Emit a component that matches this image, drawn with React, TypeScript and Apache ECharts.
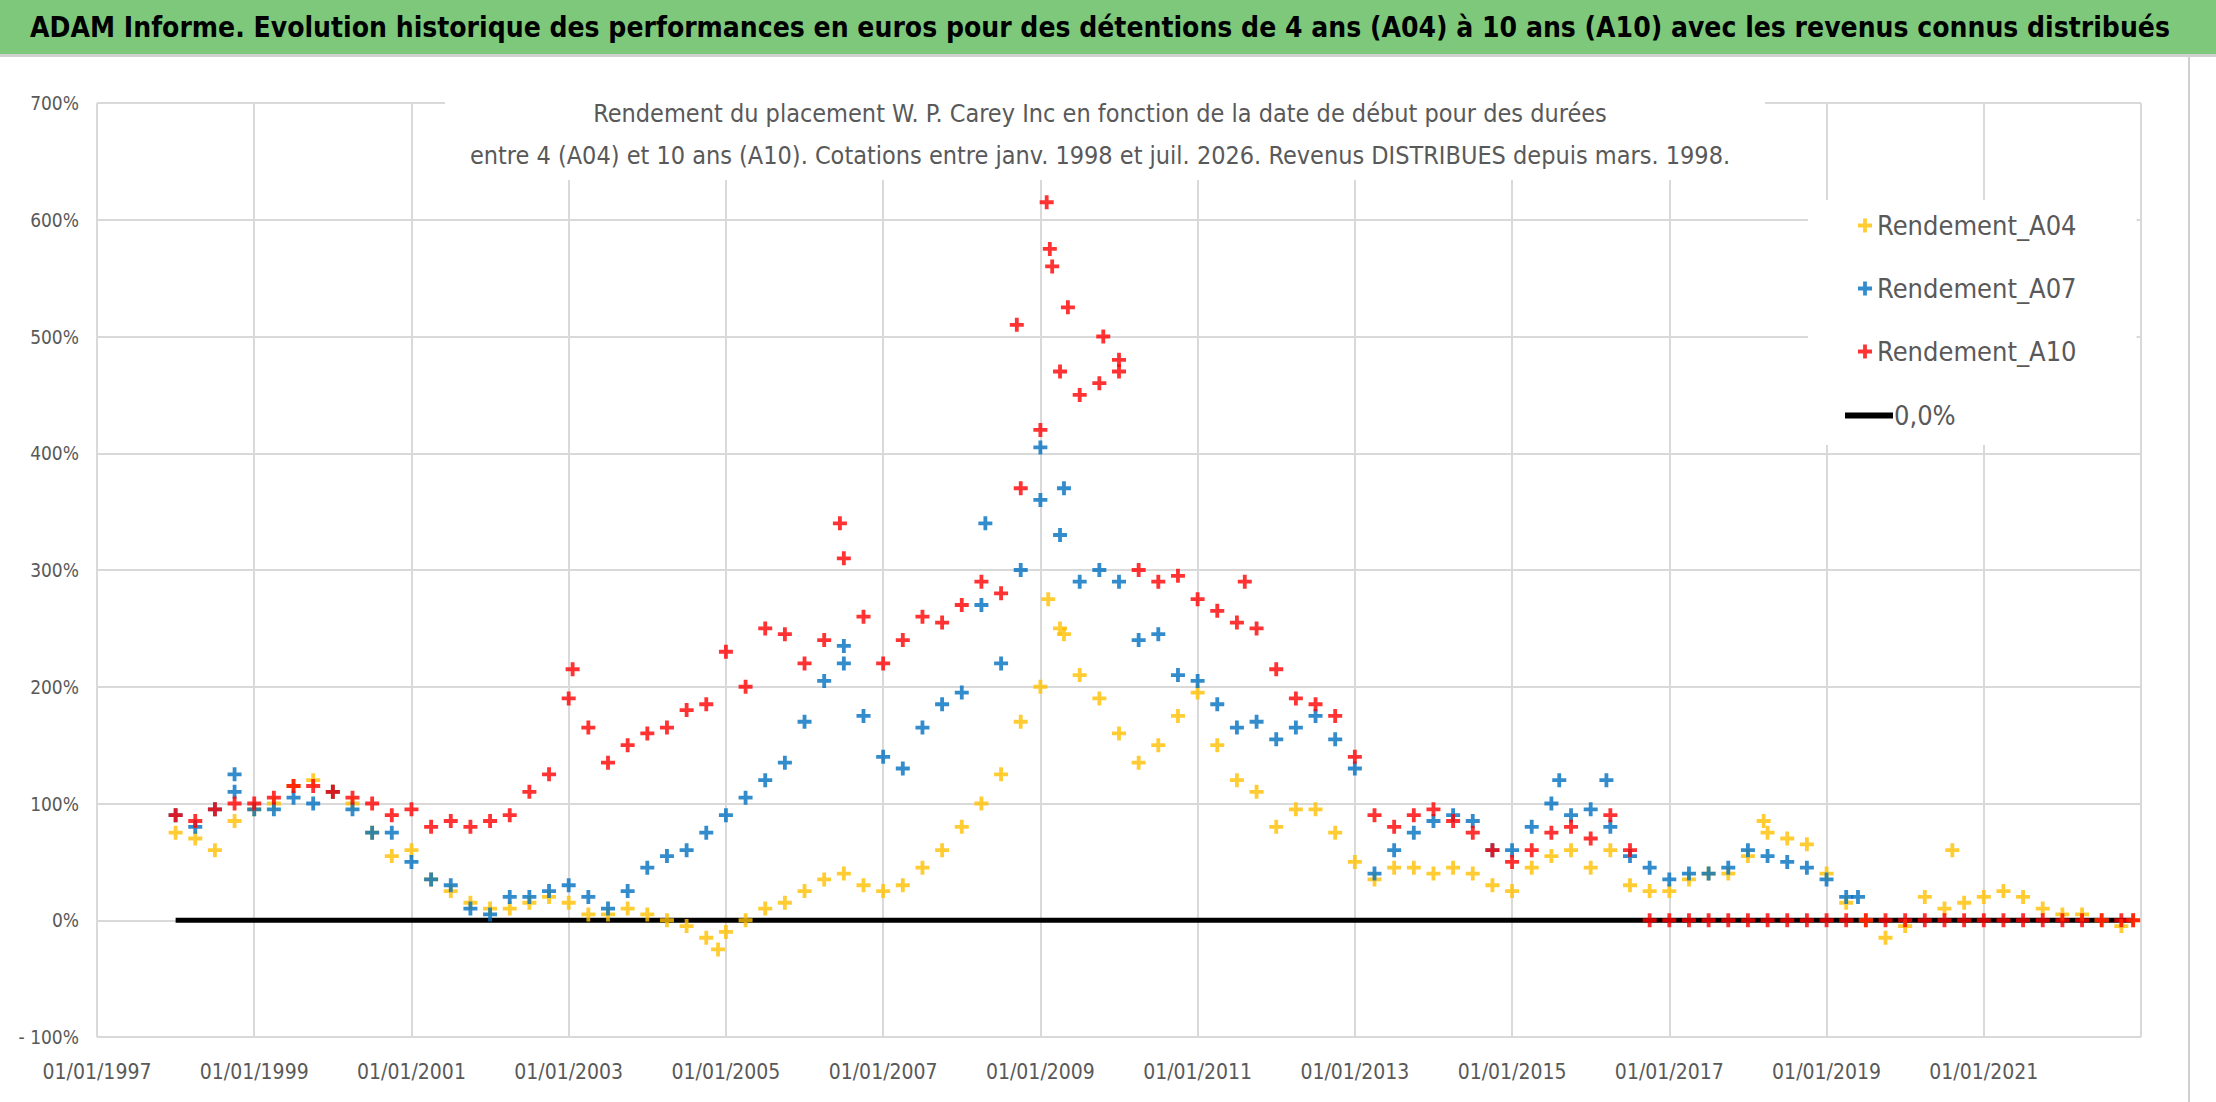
import React, { useEffect, useRef } from 'react'
import * as echarts from 'echarts'

// dates as decimal years, returns in %
const datesA = [
  1998.0, 1998.25, 1998.5, 1998.75, 1999.0, 1999.25, 1999.5, 1999.75, 2000.0, 2000.25, 2000.5, 2000.75,
  2001.0, 2001.25, 2001.5, 2001.75, 2002.0, 2002.25, 2002.5, 2002.75, 2003.0, 2003.25, 2003.5, 2003.75,
  2004.0, 2004.25, 2004.5, 2004.75, 2005.0, 2005.25, 2005.5, 2005.75, 2006.0, 2006.25, 2006.5, 2006.75,
  2007.0, 2007.25, 2007.5, 2007.75, 2008.0, 2008.25, 2008.5, 2008.75, 2009.0, 2009.25, 2009.5, 2009.75,
  2010.0, 2010.25, 2010.5, 2010.75, 2011.0, 2011.25, 2011.5, 2011.75, 2012.0, 2012.25, 2012.5, 2012.75,
  2013.0, 2013.25, 2013.5, 2013.75, 2014.0, 2014.25, 2014.5, 2014.75, 2015.0, 2015.25, 2015.5, 2015.75,
  2016.0, 2016.25, 2016.5
]
const a10 = [
  90, 85, 95, 100, 100, 105, 115, 115, 110, 105, 100, 90,
  95, 80, 85, 80, 85, 90, 110, 125, 190, 165, 135, 150,
  160, 165, 180, 185, 230, 200, 250, 245, 220, 240, 310, 260,
  220, 240, 260, 255, 270, 290, 280, 370, 420, 470, 450, 460,
  470, 300, 290, 295, 275, 265, 255, 250, 215, 190, 185, 175,
  140, 90, 80, 90, 95, 85, 75, 60, 50, 60, 75, 80,
  70, 90, 60
]
// isolated highs visible above the main cloud
const datesA10Peaks = [2003.05, 2006.45, 2008.7, 2009.08, 2009.12, 2009.15, 2009.35, 2009.8, 2010.0, 2011.6]
const a10Peaks = [215, 340, 510, 615, 575, 560, 525, 500, 480, 290]
const datesA10Zero = [
  2016.75, 2017.0, 2017.25, 2017.5, 2017.75, 2018.0, 2018.25, 2018.5, 2018.75, 2019.0, 2019.25, 2019.5,
  2019.75, 2020.0, 2020.25, 2020.5, 2020.75, 2021.0, 2021.25, 2021.5, 2021.75, 2022.0, 2022.25, 2022.5,
  2022.75, 2022.9
]
const a10Zero = [
  0, 0, 0, 0, 0, 0, 0, 0, 0, 0, 0, 0,
  0, 0, 0, 0, 0, 0, 0, 0, 0, 0, 0, 0,
  0, 0
]
const datesB = [
  ...datesA,
  2016.75, 2017.0, 2017.25, 2017.5, 2017.75, 2018.0, 2018.25, 2018.5, 2018.75, 2019.0, 2019.25, 2019.4
]
const a07 = [
  90, 80, 95, 110, 95, 95, 105, 100, 110, 95, 75, 75,
  50, 35, 30, 10, 5, 20, 20, 25, 30, 20, 10, 25,
  45, 55, 60, 75, 90, 105, 120, 135, 170, 205, 220, 175,
  140, 130, 165, 185, 195, 270, 220, 300, 360, 330, 290, 300,
  290, 240, 245, 210, 205, 185, 165, 170, 155, 165, 175, 155,
  130, 40, 60, 75, 85, 90, 85, 60, 60, 80, 100, 90,
  95, 80, 55, 45, 35, 40, 40, 45, 60, 55, 50, 45, 35, 20, 20
]
const datesA07Peaks = [1998.75, 2006.5, 2008.3, 2009.0, 2009.3, 2015.6, 2016.2]
const a07Peaks = [125, 235, 340, 405, 370, 120, 120]
const datesC = [
  ...datesB.slice(0, datesB.length - 1),
  2019.5, 2019.75, 2020.0, 2020.25, 2020.5, 2020.75, 2021.0, 2021.25, 2021.5, 2021.75, 2022.0, 2022.25,
  2022.5, 2022.75, 2022.9
]
const a04 = [
  75, 70, 60, 85, 95, 100, 115, 120, 110, 100, 75, 55,
  60, 35, 25, 15, 10, 10, 15, 20, 15, 5, 5, 10,
  5, 0, -5, -15, -10, 0, 10, 15, 25, 35, 40, 30,
  25, 30, 45, 60, 80, 100, 125, 170, 200, 250, 210, 190,
  160, 135, 150, 175, 195, 150, 120, 110, 80, 95, 95, 75,
  50, 35, 45, 45, 40, 45, 40, 30, 25, 45, 55, 60,
  45, 60, 30, 25, 25, 35, 40, 40, 55, 75, 70, 65, 40, 15,
  0, -15, -5, 20, 10, 15, 20, 25, 20, 10, 5, 5,
  0, -5, 0
]
const datesA04Peaks = [2004.9, 2009.1, 2009.3, 2018.2, 2020.6]
const a04Peaks = [-25, 275, 245, 85, 60]
const zeroDates = [1998.0, 2022.9]
const zeroValues = [0, 0]

const title = 'ADAM Informe. Evolution historique des performances en euros pour des détentions de 4 ans (A04) à 10 ans (A10) avec les revenus connus distribués'
const subtitle1 = 'Rendement du placement W. P. Carey Inc en fonction de la date de début pour des durées'
const subtitle2 = 'entre 4 (A04) et 10 ans (A10). Cotations entre janv. 1998 et juil. 2026. Revenus DISTRIBUES depuis mars. 1998.'

const PLUS = 'path://M4,0H7V4H11V7H7V11H4V7H0V4H4Z'
const FONT = 'DejaVu Sans Condensed'

const zip = (xs: number[], ys: number[]) => ys.map((y, i) => [xs[i], y])

const App: React.FC = () => {
  const chartRef = useRef<HTMLDivElement>(null)

  useEffect(() => {
    document.body.style.margin = '0'
    if (!chartRef.current) return
    const chart = echarts.init(chartRef.current, undefined, { renderer: 'svg' })

    const scatter = (name: string, color: string, data: number[][]) => ({
      name,
      type: 'scatter',
      symbol: PLUS,
      symbolSize: 14,
      itemStyle: { color },
      data
    })

    chart.setOption({
      animation: false,
      backgroundColor: '#ffffff',
      grid: { left: 97, right: 75, top: 103, bottom: 65 },
      xAxis: {
        type: 'value',
        min: 1997,
        max: 2023,
        interval: 2,
        axisLine: { show: false },
        axisTick: { show: false },
        axisLabel: {
          color: '#595959',
          fontSize: 21,
          fontFamily: FONT,
          margin: 24,
          formatter: (v: number) => (v < 2023 ? '01/01/' + v : '')
        },
        splitLine: { show: true, lineStyle: { color: '#d9d9d9', width: 2 } }
      },
      yAxis: {
        type: 'value',
        min: -100,
        max: 700,
        interval: 100,
        axisLine: { show: false },
        axisTick: { show: false },
        axisLabel: {
          color: '#595959',
          fontSize: 19,
          fontFamily: FONT,
          margin: 18,
          formatter: (v: number) => (v < 0 ? '- ' + Math.abs(v) + '%' : v + '%')
        },
        splitLine: { lineStyle: { color: '#d9d9d9', width: 2 } }
      },
      legend: [
        {
          orient: 'vertical',
          left: 1808,
          top: 200,
          width: 332,
          itemGap: 36,
          itemWidth: 14,
          itemHeight: 14,
          padding: [12, 60, 80, 50],
          backgroundColor: '#ffffff',
          textStyle: { color: '#595959', fontSize: 27, fontFamily: FONT },
          data: [
            { name: 'Rendement_A04', icon: PLUS, itemStyle: { color: '#ffc000' } },
            { name: 'Rendement_A07', icon: PLUS, itemStyle: { color: '#0070c0' } },
            { name: 'Rendement_A10', icon: PLUS, itemStyle: { color: '#ff0000' } }
          ]
        },
        {
          left: 1845,
          top: 402,
          itemWidth: 48,
          itemHeight: 6,
          itemGap: 2,
          padding: 0,
          textStyle: { color: '#595959', fontSize: 27, fontFamily: FONT, padding: [0, 0, 0, -4] },
          data: [{ name: '0,0%', icon: 'rect', itemStyle: { color: '#000000' } }]
        }
      ],
      graphic: [
        { type: 'rect', shape: { x: 0, y: 0, width: 2216, height: 54 }, style: { fill: '#7dc87b' }, z: 10 },
        { type: 'rect', shape: { x: 0, y: 54, width: 2216, height: 3 }, style: { fill: '#d0d0d0' }, z: 10 },
        { type: 'rect', shape: { x: 2188, y: 57, width: 2, height: 1045 }, style: { fill: '#d0d0d0' }, z: 10 },
        {
          type: 'text', x: 1100, y: 27, z: 11,
          style: { text: title, fill: '#000000', font: `bold 28px "${FONT}"`, align: 'center', verticalAlign: 'middle' }
        },
        { type: 'rect', shape: { x: 445, y: 90, width: 1320, height: 90 }, style: { fill: '#ffffff' }, z: 10 },
        {
          type: 'text', x: 1100, y: 113, z: 11,
          style: { text: subtitle1, fill: '#595959', font: `25px "${FONT}"`, align: 'center', verticalAlign: 'middle' }
        },
        {
          type: 'text', x: 1100, y: 155, z: 11,
          style: { text: subtitle2, fill: '#595959', font: `25px "${FONT}"`, align: 'center', verticalAlign: 'middle' }
        }
      ],
      series: [
        {
          name: '0,0%',
          type: 'line',
          symbol: 'none',
          lineStyle: { color: '#000000', width: 5 },
          itemStyle: { color: '#000000' },
          data: zip(zeroDates, zeroValues),
          z: 1
        },
        scatter('Rendement_A04', '#ffc000', [...zip(datesC, a04), ...zip(datesA04Peaks, a04Peaks)]),
        scatter('Rendement_A07', '#0070c0', [...zip(datesB, a07), ...zip(datesA07Peaks, a07Peaks)]),
        scatter('Rendement_A10', '#ff0000', [
          ...zip(datesA, a10),
          ...zip(datesA10Peaks, a10Peaks),
          ...zip(datesA10Zero, a10Zero)
        ])
      ]
    })

    return () => chart.dispose()
  }, [])

  return <div ref={chartRef} style={{ width: 2216, height: 1102 }} />
}

export default App
